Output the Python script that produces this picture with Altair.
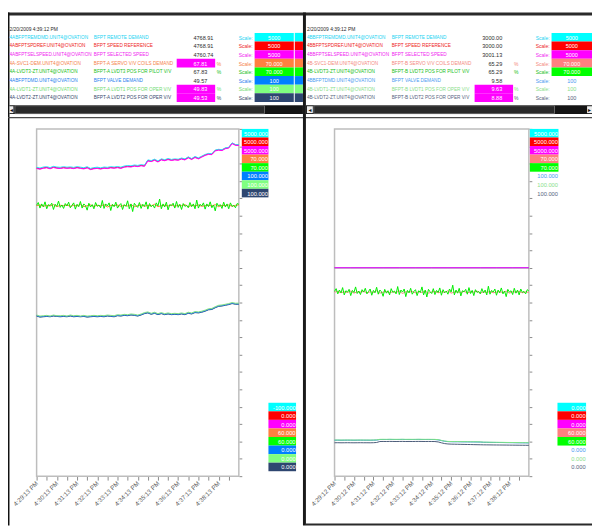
import json
import altair as alt
import pandas as pd

FONT = "Liberation Sans, Arial, sans-serif"
AXFONT = "Liberation Sans, Arial, sans-serif"

# ---------------- data ----------------
DATE_TEXT = "2/20/2009 4:39:12 PM"

A_TAGS = ["4ABFPTREMDMD.UNIT4@OVATION", "4ABFPTSPDREF.UNIT4@OVATION", "4ABFPTSELSPEED.UNIT4@OVATION",
          "4A-SVC1-DEM.UNIT4@OVATION", "4A-LVDT3-ZT.UNIT4@OVATION", "4ABFPTDMD.UNIT4@OVATION",
          "4A-LVDT1-ZT.UNIT4@OVATION", "4A-LVDT2-ZT.UNIT4@OVATION"]
A_DESC = ["BFPT REMOTE DEMAND", "BFPT SPEED REFERENCE", "BFPT SELECTED SPEED", "BFPT-A SERVO V/V COILS DEMAND",
          "BFPT-A LVDT3 POS FOR PILOT V/V", "BFPT VALVE DEMAND", "BFPT-A LVDT1 POS FOR OPER V/V",
          "BFPT-A LVDT2 POS FOR OPER V/V"]
A_VALUES = ["4768.91", "4768.91", "4760.74", "67.81", "67.83", "49.57", "49.83", "49.53"]
A_ALARM = [False, False, False, True, False, False, True, True]
A_PCT = [False, False, False, True, True, False, True, True]
A_SCALE_TXT = ["5000", "5000", "5000", "70.000", "70.000", "100", "100", "100"]
A_SCALE_BOXED = [True] * 8
A_HI = [5000, 5000, 5000, 70, 70, 100, 100, 100]
A_LO = [-100, 0, 0, 60, 60, 0, 0, 0]
A_HI_LABELS = ["5000.000", "5000.000", "5000.000", "70.000", "70.000", "100.000", "100.000", "100.000"]
A_LO_LABELS = ["-100.000", "0.000", "0.000", "60.000", "60.000", "0.000", "0.000", "0.000"]

B_TAGS = ["4BBFPTREMDMD.UNIT4@OVATION", "4BBFPTSPDREF.UNIT4@OVATION", "4BBFPTSELSPEED.UNIT4@OVATION",
          "4B-SVC1-DEM.UNIT4@OVATION", "4B-LVDT3-ZT.UNIT4@OVATION", "4BBFPTDMD.UNIT4@OVATION",
          "4B-LVDT1-ZT.UNIT4@OVATION", "4B-LVDT2-ZT.UNIT4@OVATION"]
B_DESC = ["BFPT REMOTE DEMAND", "BFPT SPEED REFERENCE", "BFPT SELECTED SPEED", "BFPT-B SERVO V/V COILS DEMAND",
          "BFPT-B LVDT3 POS FOR PILOT V/V", "BFPT VALVE DEMAND", "BFPT-B LVDT1 POS FOR OPER V/V",
          "BFPT-B LVDT2 POS FOR OPER V/V"]
B_VALUES = ["3000.00", "3000.00", "3001.13", "65.29", "65.29", "9.58", "9.63", "8.88"]
B_ALARM = [False, False, False, False, False, False, True, True]
B_PCT = [False, False, False, True, True, False, True, True]
B_SCALE_TXT = ["5000", "5000", "5000", "70.000", "70.000", "100", "100", "100"]
B_SCALE_BOXED = [True, True, True, True, True, False, False, False]
B_HI = [5000, 5000, 5000, 70, 70, 100, 100, 100]
B_LO = [0, 0, 0, 60, 60, 0, 0, 0]
B_HI_LABELS = ["5000.000", "5000.000", "5000.000", "70.000", "70.000", "100.000", "100.000", "100.000"]
B_LO_LABELS = ["0.000", "0.000", "0.000", "60.000", "60.000", "0.000", "0.000", "0.000"]

A_TEXT_COLORS = ["#19d3f2", "#ee1c1c", "#f01df0", "#f5814a", "#19c019", "#1f80ee", "#72dc72", "#35496b"]
B_TEXT_COLORS = ["#19d3f2", "#ee1c1c", "#f01df0", "#f48a80", "#19c019", "#4a9af0", "#8ae08a", "#56647e"]
A_BOX_COLORS = ["#00ffff", "#ff0000", "#ff00ff", "#ff8040", "#00ff00", "#0080ff", "#80ff80", "#2e4670"]
B_BOX_COLORS = ["#00ffff", "#ff0000", "#ff00ff", "#ff8080", "#00ff00", "#0080ff", "#80ff80", "#56647e"]
A_LINE_COLORS = ["#22e4ff", "#ff0000", "#ff00ff", "#ff7a3a", "#00ee00", "#1f78e8", "#7fe07f", "#34496b"]
B_LINE_COLORS = ["#22e4ff", "#ff0000", "#ff00ff", "#ff8080", "#00ee00", "#1f78e8", "#80e880", "#4a5a78"]

A_TIME_LABELS = ["4:29:13 PM", "4:30:13 PM", "4:31:13 PM", "4:32:13 PM", "4:33:13 PM",
                 "4:34:13 PM", "4:35:13 PM", "4:36:13 PM", "4:37:13 PM", "4:38:13 PM"]
B_TIME_LABELS = ["4:29:12 PM", "4:30:12 PM", "4:31:12 PM", "4:32:12 PM", "4:33:12 PM",
                 "4:34:12 PM", "4:35:12 PM", "4:36:12 PM", "4:37:12 PM", "4:38:12 PM"]
WINDOW_S = 600

# trend samples (engineering units)
A_DEMAND = [4437, 4425, 4440, 4445, 4432, 4450, 4440, 4436, 4445, 4438, 4442, 4435, 4446, 4438, 4430, 4445, 4420,
            4432, 4438, 4428, 4440, 4436, 4445, 4440, 4448, 4438, 4455, 4462, 4458, 4470, 4464, 4475, 4468, 4545,
            4535, 4555, 4530, 4560, 4548, 4565, 4552, 4560, 4555, 4572, 4560, 4590, 4565, 4595, 4575, 4600, 4625,
            4640, 4636, 4690, 4700, 4695, 4722, 4730, 4795, 4770, 4769]
A_SELECTED = [4430, 4420, 4433, 4440, 4426, 4444, 4433, 4430, 4438, 4432, 4436, 4428, 4440, 4431, 4424, 4438, 4414,
              4426, 4431, 4421, 4434, 4429, 4439, 4433, 4442, 4431, 4449, 4455, 4451, 4464, 4457, 4469, 4461, 4538,
              4529, 4548, 4524, 4553, 4542, 4558, 4545, 4554, 4548, 4566, 4553, 4583, 4559, 4588, 4568, 4594, 4618,
              4634, 4629, 4683, 4694, 4688, 4715, 4724, 4787, 4763, 4761]
A_SERVO = [67.79, 67.81, 67.77, 67.80, 67.78, 67.82, 67.76, 67.80, 67.79, 67.81, 67.77, 67.80, 67.78, 67.83, 67.76,
           67.79, 67.81, 67.77, 67.80, 67.78, 67.82, 67.75, 67.80, 67.79, 67.81, 67.77, 67.80, 67.78, 67.82, 67.76,
           67.79, 67.81, 67.77, 67.80, 67.78, 67.83, 67.76, 67.79, 67.80, 67.78, 67.81, 67.77, 67.80, 67.79, 67.82,
           67.76, 67.80, 67.78, 67.81, 67.77, 67.79, 67.80, 67.78, 67.82, 67.76, 67.80, 67.79, 67.81, 67.77, 67.80,
           67.81]
A_LVDT3 = [67.80, 67.88, 67.72, 67.84, 67.76, 67.90, 67.70, 67.82, 67.79, 67.86, 67.68, 67.83, 67.77, 67.92, 67.74,
           67.81, 67.71, 67.85, 67.78, 67.89, 67.73, 67.80, 67.87, 67.69, 67.83, 67.76, 67.91, 67.72, 67.84, 67.79,
           67.66, 67.86, 67.75, 67.82, 67.70, 67.88, 67.77, 67.81, 67.73, 67.94, 67.71, 67.84, 67.78, 67.87, 67.65,
           67.83, 67.76, 67.89, 67.72, 67.80, 67.85, 67.68, 67.82, 67.77, 67.93, 67.70, 67.84, 67.62, 67.86, 67.79,
           67.74, 67.88, 67.71, 67.83, 67.77, 67.90, 67.69, 67.85, 67.76, 67.81, 67.72, 67.87, 67.78, 67.98, 67.70,
           67.84, 67.75, 67.89, 67.67, 67.82, 67.79, 67.86, 67.72, 67.91, 67.74, 67.83, 67.68, 67.85, 67.77, 67.80,
           67.73, 67.88, 67.76, 67.84, 67.70, 67.95, 67.72, 67.83, 67.78, 67.87, 67.69, 67.84, 67.76, 67.90, 67.73,
           67.81, 67.64, 67.86, 67.78, 67.82, 67.71, 67.89, 67.75, 67.84, 67.70, 67.87, 67.77, 67.80, 67.73, 67.85,
           67.83]
A_VALVE = [46.2, 45.9, 46.0, 46.1, 46.0, 46.2, 46.1, 46.0, 46.1, 46.0, 46.2, 46.0, 46.1, 46.0, 46.1, 45.9, 46.0,
           46.1, 46.0, 46.1, 46.0, 46.2, 46.1, 46.0, 46.3, 46.2, 46.4, 46.3, 46.5, 46.4, 46.2, 46.5, 46.9, 47.1,
           46.7, 47.0, 46.6, 46.9, 46.6, 46.8, 46.6, 46.7, 46.6, 46.8, 46.6, 47.0, 46.8, 47.2, 47.1, 47.3, 47.6,
           48.0, 48.1, 48.6, 49.0, 49.1, 49.3, 49.5, 49.8, 49.6, 49.57]
A_LVDT1 = [46.4, 46.1, 46.2, 46.3, 46.1, 46.4, 46.2, 46.2, 46.3, 46.1, 46.4, 46.2, 46.3, 46.1, 46.3, 46.1, 46.2,
           46.3, 46.2, 46.3, 46.2, 46.4, 46.3, 46.2, 46.5, 46.4, 46.6, 46.5, 46.7, 46.6, 46.4, 46.7, 47.1, 47.3,
           46.9, 47.2, 46.8, 47.1, 46.8, 47.0, 46.8, 46.9, 46.8, 47.0, 46.8, 47.2, 47.0, 47.4, 47.3, 47.5, 47.8,
           48.2, 48.3, 48.8, 49.2, 49.3, 49.5, 49.7, 50.0, 49.8, 49.83]
A_LVDT2 = [46.1, 45.8, 45.9, 46.0, 45.9, 46.1, 46.0, 45.9, 46.0, 45.9, 46.1, 45.9, 46.0, 45.9, 46.0, 45.8, 45.9,
           46.0, 45.9, 46.0, 45.9, 46.1, 46.0, 45.9, 46.2, 46.1, 46.3, 46.2, 46.4, 46.3, 46.1, 46.4, 46.8, 47.0,
           46.6, 46.9, 46.5, 46.8, 46.5, 46.7, 46.5, 46.6, 46.5, 46.7, 46.5, 46.9, 46.7, 47.1, 47.0, 47.2, 47.5,
           47.9, 48.0, 48.5, 48.9, 49.0, 49.2, 49.4, 49.7, 49.5, 49.53]

B_DEMAND = [3000.0, 3000.0, 3000.1, 3000.0, 3000.0, 3000.0, 3000.1, 3000.0, 3000.0, 3000.0, 3000.0, 3000.1, 3000.0]
B_SELECTED = [3001.1, 3000.9, 3001.2, 3001.0, 3001.1, 3000.9, 3001.2, 3001.0, 3001.1, 3001.0, 3001.2, 3001.1, 3001.13]
B_SERVO = [65.30, 65.32, 65.28, 65.31, 65.29, 65.33, 65.27, 65.31, 65.30, 65.32, 65.28, 65.31, 65.29, 65.34, 65.27,
           65.30, 65.32, 65.28, 65.31, 65.29, 65.33, 65.26, 65.31, 65.30, 65.32, 65.28, 65.31, 65.29, 65.33, 65.27,
           65.30, 65.32, 65.28, 65.31, 65.29, 65.34, 65.27, 65.30, 65.31, 65.29, 65.32, 65.28, 65.31, 65.30, 65.33,
           65.27, 65.31, 65.29, 65.32, 65.28, 65.30, 65.31, 65.29, 65.33, 65.27, 65.31, 65.30, 65.32, 65.28, 65.31,
           65.29]
B_LVDT3 = [65.32, 65.40, 65.25, 65.36, 65.28, 65.43, 65.22, 65.34, 65.30, 65.38, 65.20, 65.35, 65.29, 65.45, 65.26,
           65.33, 65.23, 65.37, 65.30, 65.41, 65.25, 65.32, 65.39, 65.21, 65.35, 65.28, 65.44, 65.24, 65.36, 65.31,
           65.18, 65.38, 65.27, 65.34, 65.22, 65.40, 65.29, 65.33, 65.25, 65.46, 65.23, 65.36, 65.30, 65.39, 65.17,
           65.35, 65.28, 65.41, 65.24, 65.32, 65.37, 65.20, 65.34, 65.29, 65.45, 65.22, 65.36, 65.16, 65.38, 65.31,
           65.26, 65.40, 65.23, 65.35, 65.29, 65.42, 65.21, 65.37, 65.28, 65.33, 65.24, 65.39, 65.30, 65.50, 65.22,
           65.36, 65.27, 65.41, 65.19, 65.34, 65.31, 65.38, 65.24, 65.43, 65.26, 65.35, 65.20, 65.37, 65.29, 65.32,
           65.25, 65.40, 65.28, 65.36, 65.22, 65.47, 65.24, 65.35, 65.30, 65.39, 65.21, 65.36, 65.28, 65.42, 65.25,
           65.33, 65.17, 65.38, 65.30, 65.34, 65.23, 65.41, 65.27, 65.36, 65.22, 65.39, 65.29, 65.32, 65.25, 65.37,
           65.33]
B_VALVE = [10.35, 10.36, 10.34, 10.35, 10.36, 10.35, 10.34, 10.35, 10.36, 10.35, 10.35, 10.34, 10.36, 10.40,
           10.55, 10.56, 10.55, 10.57, 10.56, 10.55, 10.56, 10.57, 10.55, 10.56, 10.55, 10.56, 10.57, 10.56, 10.55,
           10.56, 10.55, 10.54, 10.45, 10.25, 10.05, 9.95, 9.92, 9.90, 9.91, 9.89, 9.88, 9.87, 9.86, 9.85, 9.84,
           9.82, 9.75, 9.74, 9.72, 9.71, 9.70, 9.69, 9.68, 9.66, 9.65, 9.64, 9.62, 9.61, 9.60, 9.59, 9.58]
B_LVDT1 = [10.40, 10.41, 10.39, 10.40, 10.41, 10.40, 10.39, 10.40, 10.41, 10.40, 10.40, 10.39, 10.41, 10.45,
           10.60, 10.61, 10.60, 10.62, 10.61, 10.60, 10.61, 10.62, 10.60, 10.61, 10.60, 10.61, 10.62, 10.61, 10.60,
           10.61, 10.60, 10.59, 10.50, 10.30, 10.10, 10.00, 9.97, 9.95, 9.96, 9.94, 9.93, 9.92, 9.91, 9.90, 9.89,
           9.87, 9.80, 9.79, 9.77, 9.76, 9.75, 9.74, 9.73, 9.71, 9.70, 9.69, 9.67, 9.66, 9.65, 9.64, 9.63]
B_LVDT2 = [9.62, 9.63, 9.61, 9.62, 9.63, 9.62, 9.61, 9.62, 9.63, 9.62, 9.62, 9.61, 9.63, 9.70,
           9.98, 9.99, 9.98, 10.00, 9.99, 9.98, 9.99, 10.00, 9.98, 9.99, 9.98, 9.99, 10.00, 9.99, 9.98,
           9.99, 9.98, 9.97, 9.85, 9.60, 9.38, 9.27, 9.22, 9.20, 9.18, 9.16, 9.14, 9.12, 9.10, 9.08, 9.06,
           9.04, 9.02, 9.01, 9.00, 8.99, 8.98, 8.97, 8.96, 8.95, 8.94, 8.93, 8.92, 8.91, 8.90, 8.89, 8.88]

# series per row (row order = header order), and drawing order (bottom -> top)
A_SERIES = [A_DEMAND, A_DEMAND, A_SELECTED, A_SERVO, A_LVDT3, A_VALVE, A_LVDT1, A_LVDT2]
B_SERIES = [B_DEMAND, B_DEMAND, B_SELECTED, B_SERVO, B_LVDT3, B_VALVE, B_LVDT1, B_LVDT2]
DRAW_ORDER = [1, 0, 2, 7, 5, 6, 3, 4]

# ---------------- layout (pixels inside the chart) ----------------
W, H = 592, 521
PLOT_TOP, PLOT_BOTTOM = 119, 471
HEADER_BAND = [12.9, 91.7]
SLOT_BAND = [119, 466]
NAME_SIZE = 4.75
VALUE_SIZE = 5.6
SMALL_SIZE = 5.1

A_COLS = dict(tag=1.5, desc=87, val=188, val_align="left", vbox=(171, 210), pct=211.5, scale=248,
              sbox=(250, 289.7), sliver=(290.7, 299))
B_COLS = dict(tag=303, desc=389, val=501, val_align="right", vbox=(473, 512), pct=513, scale=549,
              sbox=(551, 592), sliver=None)


def header(tags, descs, values, alarm, pct, scale_txt, boxed, tcols, bcols, c):
    n = len(tags)
    df = pd.DataFrame({
        "row": list(range(1, n + 1)), "tag": tags, "desc": descs, "val": values, "alarm": alarm,
        "pct": pct, "stxt": scale_txt, "boxed": boxed, "tcol": tcols, "bcol": bcols,
        "vcol": ["#ffffff" if a else "#2a2a2a" for a in alarm],
        "scol": ["#ffffff" if b else t for b, t in zip(boxed, tcols)],
    })
    ysc = alt.Scale(type="band", domain=list(range(n + 1)), range=HEADER_BAND, paddingInner=0, paddingOuter=0)
    yt = alt.Y("row:O", scale=ysc, axis=None, bandPosition=0.5)
    yr = alt.Y("row:O", scale=ysc, axis=None)
    base = alt.Chart(df)

    def txt(chart, x, text, color, size, align="left"):
        return chart.mark_text(font=FONT, fontSize=size, align=align, baseline="middle", dy=0.5).encode(
            x=alt.value(x), y=yt, text=text, color=color)

    def box(chart, x0, x1, color):
        return chart.mark_rect().encode(x=alt.value(x0), x2=alt.value(x1), y=yr, color=color)

    date = alt.Chart(pd.DataFrame({"row": [0], "d": [DATE_TEXT]})).mark_text(
        font=FONT, fontSize=5.0, align="left", baseline="middle", dy=0.5, color="#2a2a2a").encode(
        x=alt.value(c["tag"]), y=yt, text="d:N")
    layers = [
        date,
        txt(base, c["tag"], "tag:N", alt.Color("tcol:N", scale=None), NAME_SIZE),
        txt(base, c["desc"], "desc:N", alt.Color("tcol:N", scale=None), NAME_SIZE),
        box(base.transform_filter("datum.alarm"), c["vbox"][0], c["vbox"][1], alt.value("#ff00ff")),
        txt(base, c["val"], "val:N", alt.Color("vcol:N", scale=None), VALUE_SIZE, align=c["val_align"]),
        txt(base.transform_filter("datum.pct"), c["pct"], alt.value("%"), alt.Color("tcol:N", scale=None),
            SMALL_SIZE),
        txt(base, c["scale"], alt.value("Scale:"), alt.Color("tcol:N", scale=None), SMALL_SIZE, align="right"),
        box(base.transform_filter("datum.boxed"), c["sbox"][0], c["sbox"][1], alt.Color("bcol:N", scale=None)),
    ]
    if c["sliver"]:
        layers.append(box(base, c["sliver"][0], c["sliver"][1], alt.Color("bcol:N", scale=None)))
    layers.append(txt(base, (c["sbox"][0] + c["sbox"][1]) / 2, "stxt:N", alt.Color("scol:N", scale=None),
                      VALUE_SIZE, align="center"))
    return alt.layer(*layers)


def scale_boxes(hi_labels, lo_labels, boxed, bcols, tcols, top_x, bot_x):
    n = len(hi_labels)
    df = pd.DataFrame({
        "slot": list(range(n)) + list(range(40 - n, 40)),
        "lab": hi_labels + lo_labels,
        "grp": ["top"] * n + ["bot"] * n,
        "boxed": boxed + boxed,
        "bcol": bcols + bcols,
        "tcol": ["#ffffff" if b else t for b, t in zip(boxed, tcols)] * 2,
    })
    ysc = alt.Scale(type="band", domain=list(range(40)), range=SLOT_BAND, paddingInner=0, paddingOuter=0)
    yt = alt.Y("slot:O", scale=ysc, axis=None, bandPosition=0.5)
    yr = alt.Y("slot:O", scale=ysc, axis=None)
    layers = []
    for grp, (x0, x1) in (("top", top_x), ("bot", bot_x)):
        sub = alt.Chart(df).transform_filter(alt.datum.grp == grp)
        layers.append(sub.transform_filter("datum.boxed").mark_rect().encode(
            x=alt.value(x0), x2=alt.value(x1), y=yr, color=alt.Color("bcol:N", scale=None)))
        layers.append(sub.mark_text(font=FONT, fontSize=5.8, align="right", baseline="middle", dy=0.5).encode(
            x=alt.value(x1 - 0.5), y=yt, text="lab:N", color=alt.Color("tcol:N", scale=None)))
    return alt.layer(*layers)


def trend(series, los, his, colors, x_range, y_offset, x_offset, labels):
    xs = alt.Scale(domain=[0, WINDOW_S], range=x_range, nice=False, zero=False)
    ys = alt.Scale(domain=[0, 1], range=[PLOT_BOTTOM, PLOT_TOP], nice=False, zero=False)
    label_expr = "datum.value % 60 === 0 ? " + json.dumps(labels) + "[datum.value / 60] : ''"
    xaxis = alt.Axis(orient="bottom", offset=x_offset, values=list(range(0, WINDOW_S, 30)), labelExpr=label_expr,
                     labelAngle=315, labelAlign="right", labelBaseline="middle", labelFont=AXFONT,
                     labelFontSize=6.3, labelColor="#555555", labelPadding=2, labelOverlap=False,
                     labelFlush=False, labelBound=False, tickSize=4, tickColor="#8a8a8a", tickWidth=1,
                     domain=False, grid=False, title=None)
    yaxis = alt.Axis(orient="right", offset=y_offset, values=[i / 20 for i in range(21)], labels=False,
                     tickSize=3, tickColor="#8a8a8a", tickWidth=1, domain=False, grid=False, title=None)
    frame = alt.Chart(pd.DataFrame({"t0": [0], "t1": [WINDOW_S], "n0": [0], "n1": [1]})).mark_rect(
        fillOpacity=0, stroke="#bdbdbd", strokeWidth=1.5).encode(
        x=alt.X("t0:Q", scale=xs, axis=xaxis), x2="t1:Q",
        y=alt.Y("n0:Q", scale=ys, axis=yaxis), y2="n1:Q")
    layers = [frame]
    for k in DRAW_ORDER:
        vals = series[k]
        n = len(vals)
        df = pd.DataFrame({"t": [i * WINDOW_S / (n - 1) for i in range(n)], "v": vals})
        layers.append(alt.Chart(df).transform_calculate(
            n=f"(datum.v - ({los[k]})) / ({his[k]} - ({los[k]}))").mark_line(
            color=colors[k], strokeWidth=1, interpolate="linear").encode(
            x=alt.X("t:Q", scale=xs, axis=xaxis), y=alt.Y("n:Q", scale=ys, axis=yaxis)))
    return alt.layer(*layers)


# decorations of the operator screen (frame lines, scroll bars)
DECOR = pd.DataFrame([
    (0, 592, 1, 4, "#2a2a2a"),
    (0, 1.5, 1, 521, "#111111"),
    (1.5, 299, 95, 104, "#141414"),
    (302, 592, 95, 104, "#141414"),
    (0, 592, 107, 108.2, "#4a4a4a"),
    (302, 592, 519, 521, "#2a2a2a"),
    (299, 302, 1, 521, "#1a1a1a"),
    (1.5, 5.5, 96, 103, "#eeeeee"),
    (303, 309, 96, 103, "#eeeeee"),
    (587, 592, 96, 103, "#eeeeee"),
], columns=["x0", "x1", "y0", "y1", "fill"])
THUMBS = pd.DataFrame([(7, 260, 95.5, 103.5), (310, 554, 95.5, 103.5)], columns=["x0", "x1", "y0", "y1"])
ARROWS = pd.DataFrame([(3.5, 99.8, "◂"), (306, 99.8, "◂"), (589.5, 99.8, "▸")], columns=["x", "y", "s"])

decor = alt.Chart(DECOR).mark_rect().encode(
    x=alt.X("x0:Q", scale=None), x2="x1:Q", y=alt.Y("y0:Q", scale=None), y2="y1:Q",
    color=alt.Color("fill:N", scale=None))
thumbs = alt.Chart(THUMBS).mark_rect(fill="#2a2a2a", stroke="#7a7a7a", strokeWidth=0.8).encode(
    x=alt.X("x0:Q", scale=None), x2="x1:Q", y=alt.Y("y0:Q", scale=None), y2="y1:Q")
arrows = alt.Chart(ARROWS).mark_text(font="DejaVu Sans", fontSize=6, color="#111111", baseline="middle").encode(
    x=alt.X("x:Q", scale=None), y=alt.Y("y:Q", scale=None), text="s:N")

hdr_a = header(A_TAGS, A_DESC, A_VALUES, A_ALARM, A_PCT, A_SCALE_TXT, A_SCALE_BOXED,
               A_TEXT_COLORS, A_BOX_COLORS, A_COLS)
hdr_b = header(B_TAGS, B_DESC, B_VALUES, B_ALARM, B_PCT, B_SCALE_TXT, B_SCALE_BOXED,
               B_TEXT_COLORS, B_BOX_COLORS, B_COLS)
tr_a = trend(A_SERIES, A_LO, A_HI, A_LINE_COLORS, [29, 234], 234 - W, PLOT_BOTTOM - H, A_TIME_LABELS)
tr_b = trend(B_SERIES, B_LO, B_HI, B_LINE_COLORS, [331, 528], 528 - W, PLOT_BOTTOM - H, B_TIME_LABELS)
sb_a = scale_boxes(A_HI_LABELS, A_LO_LABELS, A_SCALE_BOXED, A_BOX_COLORS, A_TEXT_COLORS, (237, 264), (264, 292))
sb_b = scale_boxes(B_HI_LABELS, B_LO_LABELS, B_SCALE_BOXED, B_BOX_COLORS, B_TEXT_COLORS, (529, 558), (557, 586))

chart = alt.layer(
    decor, thumbs, arrows, hdr_a, hdr_b, tr_a, tr_b, sb_a, sb_b
).resolve_scale(
    x="independent", y="independent"
).properties(
    width=W, height=H, padding=0, autosize=alt.AutoSizeParams(type="none"), background="white"
).configure_view(stroke=None)

chart.save("out.html", embed_options={"renderer": "svg", "actions": False})
